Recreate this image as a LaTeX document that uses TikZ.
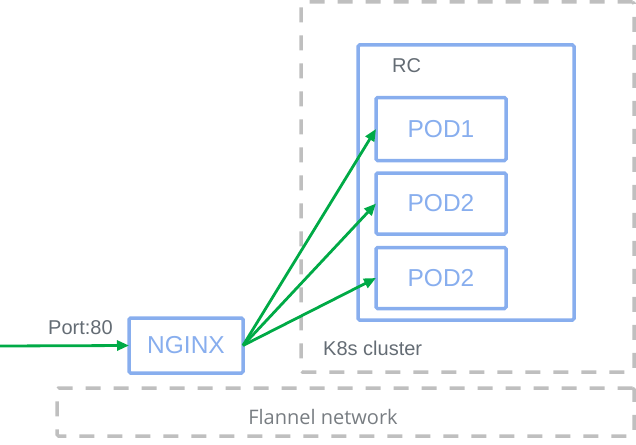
\documentclass[tikz,border=0pt]{standalone}
\usepackage{fontspec}
\setmainfont{Liberation Sans}
\newfontfamily\lightfont{Open Sans}
\usetikzlibrary{arrows.meta}
\definecolor{boxblue}{RGB}{136,174,238}
\definecolor{arrgreen}{RGB}{0,170,70}
\definecolor{dashgray}{RGB}{191,191,191}
\definecolor{txtgray}{RGB}{100,108,116}
\definecolor{lightgray}{RGB}{120,125,130}
\tikzset{
  bluebox/.style={draw=boxblue, line width=3.5pt, rounded corners=1.5pt, inner sep=0pt, outer sep=0pt, text=boxblue, font=\fontsize{24.5}{28}\selectfont},
  dashbox/.style={draw=dashgray, line width=3.5pt, dash pattern=on 15pt off 13pt, rounded corners=1.5pt, inner sep=0pt, outer sep=0pt},
  greenarrow/.style={draw=arrgreen, line width=2.8pt, -{Triangle[length=12pt,width=10pt]}},
  label/.style={text=txtgray, inner sep=0pt, font=\fontsize{20}{24}\selectfont}
}
\begin{document}
\begin{tikzpicture}[x=1pt,y=-1pt]
\useasboundingbox (0,0) rectangle (636,444);
\node[dashbox, minimum width=333pt, minimum height=370pt] (k8s) at (467.5,187) {};
\node[dashbox, minimum width=577pt, minimum height=48pt] (flannel) at (345.5,412) {};
\node[bluebox, minimum width=216pt, minimum height=275pt] (rc) at (466,182.5) {};
\node[bluebox, minimum width=130pt, minimum height=63pt] (pod1) at (441,129) {POD1};
\node[bluebox, minimum width=130pt, minimum height=61pt] (pod2) at (441,203.5) {POD2};
\node[bluebox, minimum width=130pt, minimum height=61pt] (pod3) at (441,278) {POD2};
\node[bluebox, minimum width=114pt, minimum height=55pt] (nginx) at (186,345.5) {NGINX};
\coordinate (in) at (0,346);
\node[label, anchor=base west] (port) at (48,334) {Port:80};
\node[label, anchor=base west] (rclabel) at (392,72) {RC};
\node[label, anchor=base west] (k8slabel) at (323,355) {K8s cluster};
\node[inner sep=0pt, anchor=base, text=lightgray, font=\lightfont\fontsize{20}{24}\selectfont] (flabel) at (323,424) {Flannel network};
\draw[greenarrow] (in) -- (nginx.west);
\draw[greenarrow] (nginx.east) -- (pod1.west);
\draw[greenarrow] (nginx.east) -- (pod2.west);
\draw[greenarrow] (nginx.east) -- (pod3.west);
\end{tikzpicture}
\end{document}
